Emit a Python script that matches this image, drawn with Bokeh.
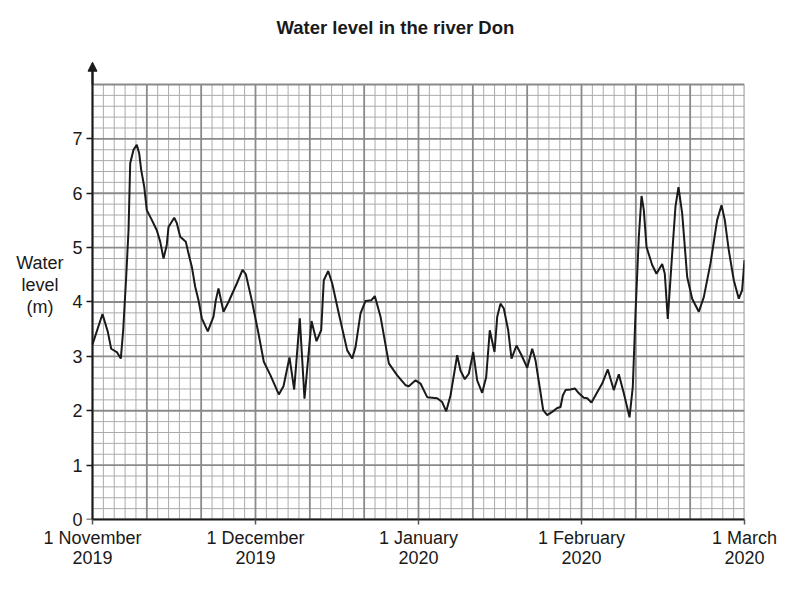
import numpy as np
from bokeh.plotting import figure
from bokeh.models import (Range1d, LinearAxis, FixedTicker, Title, Arrow,
                          NormalHead, ColumnDataSource)
from bokeh.embed import file_html
from bokeh.resources import INLINE

# Data: days since 1 November 2019 (chart uses 30-day months), water level in m
days = [0.0, 1.84, 2.82, 3.44, 4.47, 5.21, 5.65, 6.20, 6.63, 6.94, 7.55, 8.15,
        8.60, 8.96, 9.52, 9.99, 10.91, 11.83, 12.46, 13.07, 13.67, 13.99, 15.04,
        15.52, 16.14, 17.17, 17.67, 18.28, 18.90, 19.51, 20.12, 21.22, 22.27,
        22.69, 23.19, 24.11, 25.03, 26.56, 27.61, 28.22, 29.32, 30.55, 31.53,
        32.76, 34.29, 35.15, 36.26, 37.12, 38.15, 39.02, 40.31, 41.23, 42.09,
        42.57, 43.38, 44.12, 45.33, 46.88, 47.80, 48.41, 49.33, 50.25, 51.30,
        51.96, 53.01, 54.54, 56.08, 57.61, 58.22, 59.45, 60.37, 61.60, 63.44,
        64.36, 65.10, 65.89, 67.12, 67.73, 68.52, 69.26, 70.07, 70.80, 71.72,
        72.46, 73.12, 73.99, 74.49, 75.09, 75.70, 76.51, 77.12, 78.04, 78.96,
        80.01, 80.93, 81.53, 82.45, 82.95, 83.69, 84.61, 85.53, 86.14, 86.56,
        87.06, 87.98, 88.77, 89.52, 90.43, 91.06, 91.84, 92.89, 93.81, 94.84,
        95.94, 96.87, 97.79, 98.84, 99.44, 99.94, 100.55, 101.05, 101.47,
        101.97, 103.01, 103.80, 104.85, 105.33, 105.88, 106.69, 107.30, 107.85,
        108.53, 109.45, 110.37, 111.59, 112.51, 113.74, 114.97, 115.77, 116.37,
        117.11, 118.03, 118.95, 119.57, 120.0]
level = [3.22, 3.78, 3.45, 3.14, 3.08, 2.96, 3.48, 4.46, 5.32, 6.55, 6.80, 6.89,
         6.73, 6.43, 6.12, 5.69, 5.51, 5.32, 5.11, 4.80, 5.05, 5.38, 5.55,
         5.45, 5.20, 5.11, 4.89, 4.65, 4.28, 4.03, 3.70, 3.46, 3.73,
         4.03, 4.25, 3.82, 4.00, 4.34, 4.59, 4.51, 4.03, 3.42, 2.90,
         2.65, 2.30, 2.45, 2.98, 2.39, 3.70, 2.22, 3.65, 3.28, 3.48,
         4.40, 4.57, 4.34, 3.79, 3.11, 2.96, 3.17, 3.79, 4.02, 4.03,
         4.11, 3.73, 2.87, 2.65, 2.47, 2.45, 2.56, 2.50, 2.25, 2.23,
         2.16, 1.99, 2.28, 3.02, 2.74, 2.58, 2.68, 3.08, 2.56, 2.33,
         2.62, 3.48, 3.08, 3.73, 3.97, 3.88, 3.48, 2.96, 3.20, 3.02,
         2.79, 3.14, 2.93, 2.34, 2.01, 1.92, 1.98, 2.05, 2.07, 2.28,
         2.38, 2.39, 2.41, 2.32, 2.24, 2.23, 2.15, 2.34, 2.50, 2.76,
         2.38, 2.67, 2.32, 1.88, 2.44, 3.79, 5.20, 5.95, 5.69,
         5.01, 4.68, 4.52, 4.70, 4.52, 3.69, 4.89, 5.76, 6.11,
         5.63, 4.46, 4.06, 3.82, 4.09, 4.71, 5.51, 5.78, 5.51,
         4.95, 4.40, 4.06, 4.22, 4.77]

month_ticks = [0, 30, 60, 90, 120]
month_labels = ["1 November\n2019", "1 December\n2019", "1 January\n2020",
                "1 February\n2020", "1 March\n2020"]
level_ticks = [0, 1, 2, 3, 4, 5, 6, 7]

FONT = "Liberation Sans"
INK = "#1a1a1a"

# small pad left of day 0 so the axis arrow is not clipped by the frame
p = figure(width=779, height=583, output_backend="svg", toolbar_location=None,
           x_range=Range1d(-1.4724, 120), y_range=Range1d(0, 8.625),
           x_axis_type=None, y_axis_type=None,
           min_border_left=84, min_border_right=35,
           min_border_top=50, min_border_bottom=64)
p.outline_line_color = None
p.xgrid.visible = False
p.ygrid.visible = False

p.add_layout(Title(text="Water level in the river Don", align="left", offset=192,
                   standoff=26, text_font=FONT, text_font_size="18.5px",
                   text_font_style="bold", text_color=INK), "above")

# graph paper: minor every 2 days / 0.2 m, major every 10 days / 1 m
gx = np.arange(0, 121, 2)
gy = np.round(np.arange(0, 8.01, 0.2), 2)
minor_x = [v for v in gx if v % 10 != 0]
major_x = [v for v in gx if v % 10 == 0]
minor_y = [v for v in gy if abs(v - round(v)) > 1e-6]
major_y = [v for v in gy if abs(v - round(v)) < 1e-6]
p.segment(x0=minor_x, x1=minor_x, y0=0, y1=8, line_color="#ababab", line_width=1)
p.segment(x0=0, x1=120, y0=minor_y, y1=minor_y, line_color="#ababab", line_width=1)
p.segment(x0=major_x, x1=major_x, y0=0, y1=8, line_color="#8a8a8a", line_width=1.8)
p.segment(x0=0, x1=120, y0=major_y, y1=major_y, line_color="#8a8a8a", line_width=1.8)

src = ColumnDataSource(data=dict(day=days, level=level))
p.line("day", "level", source=src, line_color=INK, line_width=2)

# level axis: line and ticks drawn at day 0 ...
yline = LinearAxis(ticker=FixedTicker(ticks=level_ticks), bounds=(0, 8.3),
                   fixed_location=0)
yline.axis_line_color = INK
yline.axis_line_width = 2
yline.major_tick_out = 6
yline.major_tick_in = 0
yline.major_tick_line_color = INK
yline.major_tick_line_width = 1.5
yline.minor_tick_line_color = None
yline.major_label_text_alpha = 0
p.add_layout(yline, "left")

# ... labels and title carried by a plain axis in the left panel
ylab = LinearAxis(ticker=FixedTicker(ticks=level_ticks))
ylab.axis_line_color = None
ylab.major_tick_line_color = None
ylab.minor_tick_line_color = None
ylab.major_tick_out = 0
ylab.major_tick_in = 0
ylab.major_label_standoff = 2
ylab.major_label_text_font = FONT
ylab.major_label_text_font_size = "18px"
ylab.major_label_text_color = INK
ylab.axis_label = "Water\nlevel \n(m)  "
ylab.axis_label_orientation = "horizontal"
ylab.axis_label_standoff = 6
ylab.axis_label_text_font = FONT
ylab.axis_label_text_font_size = "18px"
ylab.axis_label_text_font_style = "normal"
ylab.axis_label_text_color = INK
ylab.axis_label_text_line_height = 1.08
p.add_layout(ylab, "left")

xaxis = LinearAxis(ticker=FixedTicker(ticks=month_ticks), bounds=(0, 120))
xaxis.major_label_overrides = dict(zip(month_ticks, month_labels))
xaxis.axis_line_color = INK
xaxis.axis_line_width = 2
xaxis.major_tick_out = 5
xaxis.major_tick_in = 0
xaxis.major_tick_line_color = "#555555"
xaxis.major_tick_line_width = 1.5
xaxis.minor_tick_out = 0
xaxis.minor_tick_in = 0
xaxis.major_label_standoff = 3
xaxis.major_label_text_font = FONT
xaxis.major_label_text_font_size = "18px"
xaxis.major_label_text_color = INK
xaxis.major_label_text_line_height = 1.0
p.add_layout(xaxis, "below")

# arrow head on top of the level axis
p.add_layout(Arrow(end=NormalHead(size=9, fill_color=INK, line_color=INK),
                   x_start=0, y_start=8.0, x_end=0, y_end=8.41,
                   line_color=INK, line_width=2))

open("out.html", "w").write(file_html(p, INLINE))
